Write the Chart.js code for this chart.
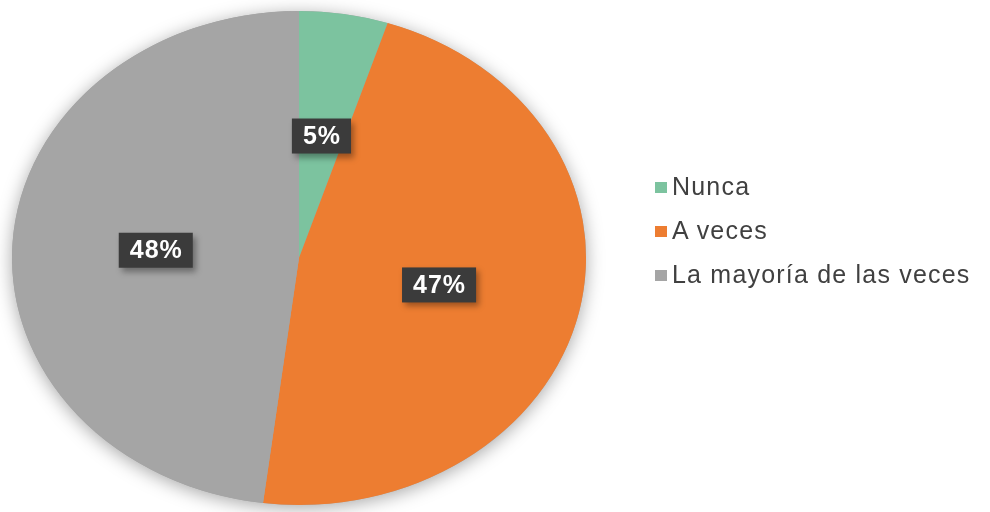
<!DOCTYPE html>
<html>
<head>
<meta charset="utf-8">
<script src="https://cdn.jsdelivr.net/npm/chart.js@4/dist/chart.umd.min.js"></script>
<style>
  html, body { margin: 0; padding: 0; background: #fff; }
  #wrap { position: relative; width: 990px; height: 512px; }
  #legend { position: absolute; left: 655px; top: 168px; font-family: "Liberation Sans", Arial, sans-serif;
            font-size: 25px; color: #404040; letter-spacing: 1.2px; }
  #legend div { height: 44px; line-height: 36px; white-space: nowrap; }
  #legend span { display: inline-block; width: 12px; height: 11px; margin-right: 5px; vertical-align: 2px; }
</style>
</head>
<body>
<div id="wrap">
  <canvas id="pie" width="990" height="512"></canvas>
  <div id="legend"></div>
</div>
<script>
// chart data
const labels = ['Nunca', 'A veces', 'La mayoría de las veces'];
const values = [5, 47, 48];
const colors = ['#7cc39f', '#ed7d31', '#a5a5a5'];

// pie in the picture is a bit wider than tall
const stretchX = 1.162;

const legendEl = document.getElementById('legend');
labels.forEach((l, i) => {
  const row = document.createElement('div');
  row.innerHTML = '<span style="background:' + colors[i] + '"></span>' + l;
  legendEl.appendChild(row);
});

const ellipsePlugin = {
  id: 'ellipse',
  beforeDatasetsDraw(chart) {
    const ctx = chart.ctx;
    const arc = chart.getDatasetMeta(0).data[0];
    const cx = arc.x, cy = arc.y, r = arc.outerRadius;
    // soft shadow behind the whole pie
    ctx.save();
    ctx.shadowColor = 'rgba(0,0,0,0.35)';
    ctx.shadowBlur = 18;
    ctx.shadowOffsetY = 3;
    ctx.fillStyle = '#a5a5a5';
    ctx.beginPath();
    ctx.ellipse(cx, cy, r * stretchX, r, 0, 0, Math.PI * 2);
    ctx.fill();
    ctx.restore();
    ctx.save();
    ctx.translate(cx, cy);
    ctx.scale(stretchX, 1);
    ctx.translate(-cx, -cy);
  },
  afterDatasetsDraw(chart) {
    const ctx = chart.ctx;
    ctx.restore();
    const meta = chart.getDatasetMeta(0);
    ctx.save();
    ctx.font = 'bold 25px "Liberation Sans", Arial, sans-serif';
    ctx.letterSpacing = '1px';
    ctx.textAlign = 'center';
    ctx.textBaseline = 'middle';
    meta.data.forEach((a, i) => {
      const p = a.tooltipPosition();
      const x = a.x + (p.x - a.x) * stretchX;
      const y = p.y;
      const txt = values[i] + '%';
      const w = ctx.measureText(txt).width + 21;
      const h = 35;
      ctx.save();
      ctx.shadowColor = 'rgba(0,0,0,0.35)';
      ctx.shadowBlur = 6;
      ctx.shadowOffsetX = 3;
      ctx.shadowOffsetY = 4;
      ctx.fillStyle = '#3b3b3b';
      ctx.fillRect(x - w / 2, y - h / 2, w, h);
      ctx.restore();
      ctx.fillStyle = '#ffffff';
      ctx.fillText(txt, x + 0.5, y + 1);
    });
    ctx.restore();
  }
};

new Chart(document.getElementById('pie'), {
  type: 'pie',
  data: {
    labels: labels,
    datasets: [{
      data: values,
      backgroundColor: colors,
      borderWidth: 0
    }]
  },
  options: {
    responsive: false,
    animation: false,
    layout: { padding: { left: 52, right: 444, top: 11, bottom: 7 } },
    plugins: {
      legend: { display: false },
      tooltip: { enabled: false }
    }
  },
  plugins: [ellipsePlugin]
});
</script>
</body>
</html>
